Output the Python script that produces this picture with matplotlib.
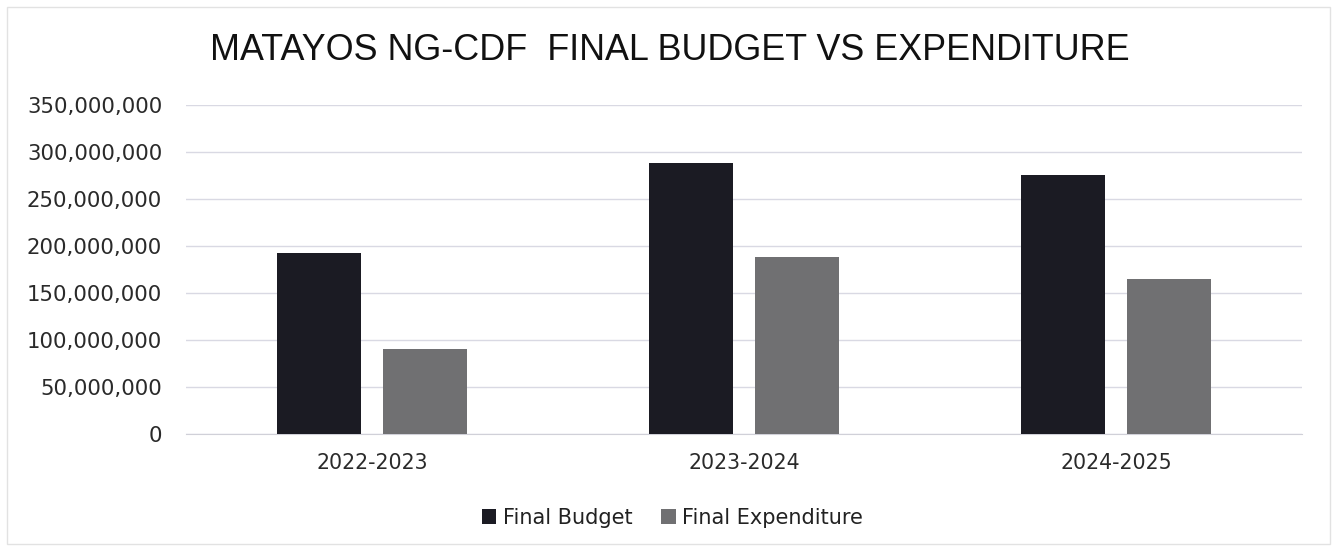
import matplotlib
matplotlib.use("Agg")
import matplotlib.pyplot as plt
import numpy as np
from matplotlib.ticker import FuncFormatter
from matplotlib.patches import Rectangle

categories = ["2022-2023", "2023-2024", "2024-2025"]
final_budget = [192_000_000, 288_000_000, 275_000_000]
final_expenditure = [90_000_000, 188_000_000, 165_000_000]
series_names = ["Final Budget", "Final Expenditure"]
title = "MATAYOS NG-CDF  FINAL BUDGET VS EXPENDITURE"

fig = plt.figure(figsize=(13.37, 5.51), dpi=100)
ax = fig.add_axes([0.139, 0.2123, 0.835, 0.598])

x = np.arange(len(categories))
w = 0.226
off = 0.142
b1 = ax.bar(x - off, final_budget, w, color="#1b1b23", label=series_names[0], zorder=3)
b2 = ax.bar(x + off, final_expenditure, w, color="#707072", label=series_names[1], zorder=3)

ax.set_xlim(-0.5, len(categories) - 0.5)
ax.set_ylim(0, 350_000_000)
ax.set_yticks(np.arange(0, 350_000_001, 50_000_000))
ax.yaxis.set_major_formatter(FuncFormatter(lambda v, p: f"{int(v):,}"))
ax.set_xticks(x)
ax.set_xticklabels(categories)
ax.grid(axis="y", color="#d9d9e3", linewidth=1.0, zorder=0)
for s in ["top", "right", "left"]:
    ax.spines[s].set_visible(False)
ax.spines["bottom"].set_color("#d0d0d8")
ax.tick_params(axis="y", length=0, pad=17, labelsize=15.3, labelcolor="#2a2a2a")
ax.tick_params(axis="x", length=0, pad=14, labelsize=14.8, labelcolor="#2a2a2a")

fig.text(0.501, 0.908, title, ha="center", va="center", fontsize=25.8,
         family=["Liberation Sans", "DejaVu Sans"], color="#111111")

leg = fig.legend(handles=[b1, b2], labels=series_names, loc="center",
                 bbox_to_anchor=(0.503, 0.06), ncol=2, frameon=False,
                 fontsize=15, handlelength=0.7, handleheight=0.7,
                 handletextpad=0.3, columnspacing=1.4)
for t in leg.get_texts():
    t.set_color("#222222")

fig.patches.append(Rectangle((0.005, 0.012), 0.99, 0.975, transform=fig.transFigure,
                             fill=False, edgecolor="#e2e2e2", linewidth=1.0))

fig.savefig("out.png", dpi=100, facecolor="white")
